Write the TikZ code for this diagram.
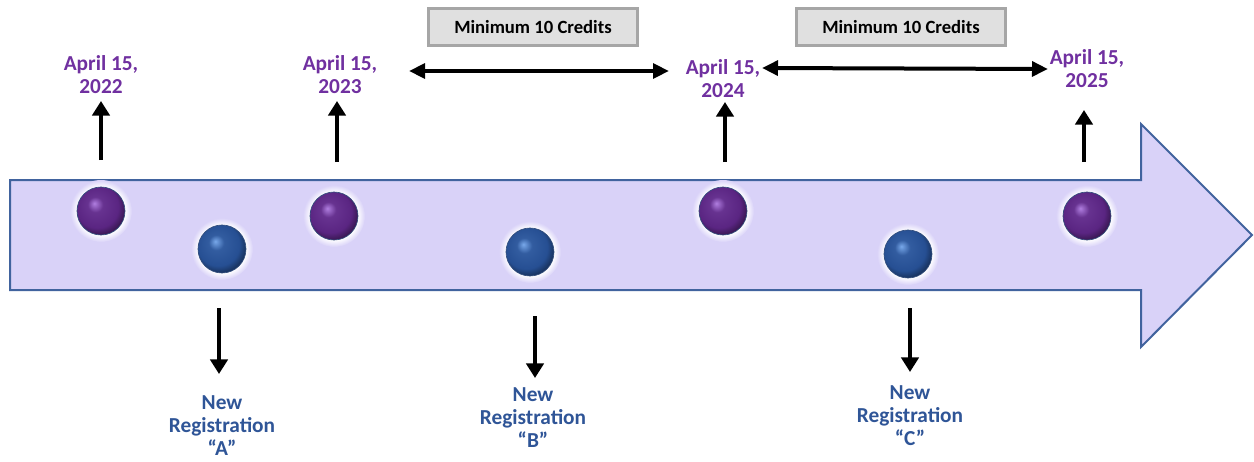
\documentclass[tikz,border=0pt]{standalone}
\usepackage{fontspec}
\setmainfont{Carlito}
\usepackage{tikz}
\usetikzlibrary{arrows.meta,calc,positioning}
\definecolor{lav}{HTML}{D9D2F8}
\definecolor{bandline}{HTML}{41639E}
\definecolor{datepurple}{HTML}{7030A0}
\definecolor{regblue}{HTML}{2F5597}
\definecolor{ballpurple}{HTML}{5A2582}
\definecolor{balllilac}{HTML}{B07EE0}
\definecolor{ballblue}{HTML}{264F93}
\definecolor{ballsky}{HTML}{78A8EA}
\definecolor{boxgray}{HTML}{E0E0E0}
\definecolor{boxline}{HTML}{A6A6A6}
\pgfdeclareradialshading{halo}{\pgfpoint{0bp}{0bp}}{color(0bp)=(white); color(19bp)=(white); color(25bp)=(lav); color(50bp)=(lav)}
\pgfdeclareradialshading{pball}{\pgfpoint{-7bp}{8bp}}{color(0bp)=(balllilac); color(8bp)=(ballpurple!85!balllilac); color(22bp)=(ballpurple); color(30bp)=(ballpurple!55!black); color(50bp)=(ballpurple!55!black)}
\pgfdeclareradialshading{bball}{\pgfpoint{-7bp}{8bp}}{color(0bp)=(ballsky); color(8bp)=(ballblue!85!ballsky); color(22bp)=(ballblue); color(30bp)=(ballblue!55!black); color(50bp)=(ballblue!55!black)}
\tikzset{
	date/.style={text=datepurple, font=\fontsize{16}{17.3}\selectfont\bfseries, align=center, inner sep=1pt},
	reg/.style={text=regblue, font=\fontsize{16}{17.3}\selectfont\bfseries, align=center, inner sep=1pt},
	credits/.style={draw=boxline, line width=2pt, fill=boxgray, minimum width=157pt, minimum height=28pt,
		font=\fontsize{14}{16}\selectfont\bfseries, inner sep=0pt},
	dot/.style={circle, minimum size=36pt, inner sep=0pt, shading=#1, draw=bandline!80!black, line width=0.5pt},
	up/.style={line width=3pt, -{Triangle[length=11pt,width=13pt]}},
	span/.style={line width=3pt, {Triangle[length=12pt,width=11pt]}-{Triangle[length=12pt,width=11pt]}}
}

\begin{document}
\begin{tikzpicture}[x=0.75pt,y=-0.75pt]
  \useasboundingbox (0,0) rectangle (1254,461);
  % timeline band
  \draw[draw=bandline, fill=lav, line width=1.5pt, line join=miter]
    (10,180) -- (1141,180) -- (1141,124) -- (1252,235) -- (1141,347) -- (1141,290) -- (10,290) -- cycle;
  % glow behind the balls
  \foreach \p in {(101,211),(334,216),(723,211),(1087,216),(222,249),(530,252),(908,254)}
    \shade[shading=halo] \p circle (31);
  % balls
  \node [dot=pball] (P1) at (101,211) {};
  \node [dot=pball] (P2) at (334,216) {};
  \node [dot=pball] (P3) at (723,211) {};
  \node [dot=pball] (P4) at (1087,216) {};
  \node [dot=bball] (B1) at (222,249) {};
  \node [dot=bball] (B2) at (530,252) {};
  \node [dot=bball] (B3) at (908,254) {};
  % dates
  \node [date] (D2022) at (101,75) {April 15,\\2022};
  \node [date] (D2023) at (340,75) {April 15,\\2023};
  \node [date] (D2024) at (723,79) {April 15,\\2024};
  \node [date] (D2025) at (1087,69) {April 15,\\2025};
  % registrations
  \node [reg] (RA) at (222,426) {New\\Registration\\“A”};
  \node [reg] (RB) at (533,418) {New\\Registration\\“B”};
  \node [reg] (RC) at (910,416) {New\\Registration\\“C”};
  % credit boxes
  \node [credits] (C1) at (533,27) {Minimum 10 Credits};
  \node [credits] (C2) at (901,27) {Minimum 10 Credits};
  % connectors
  \coordinate (u1) at (101,160);
  \coordinate (u2) at (337,162);
  \coordinate (u3) at (725,162);
  \coordinate (u4) at (1084,162);
  \draw[up] (u1) -- (u1 |- 0,101);
  \draw[up] (u2) -- (u2 |- 0,101);
  \draw[up] (u3) -- (u3 |- 0,102);
  \draw[up] (u4) -- (u4 |- 0,110);
  \coordinate (w1) at (219,308);
  \coordinate (w2) at (535,316);
  \coordinate (w3) at (910,308);
  \draw[up] (w1) -- (w1 |- 0,374);
  \draw[up] (w2) -- (w2 |- 0,378);
  \draw[up] (w3) -- (w3 |- 0,372);
  \coordinate (s1a) at (409,71);
  \coordinate (s1b) at (669,71);
  \coordinate (s2a) at (762,68);
  \coordinate (s2b) at (1048,69);
  \draw[span] (s1a) -- (s1b);
  \draw[span] (s2a) -- (s2b);
\end{tikzpicture}
\end{document}
